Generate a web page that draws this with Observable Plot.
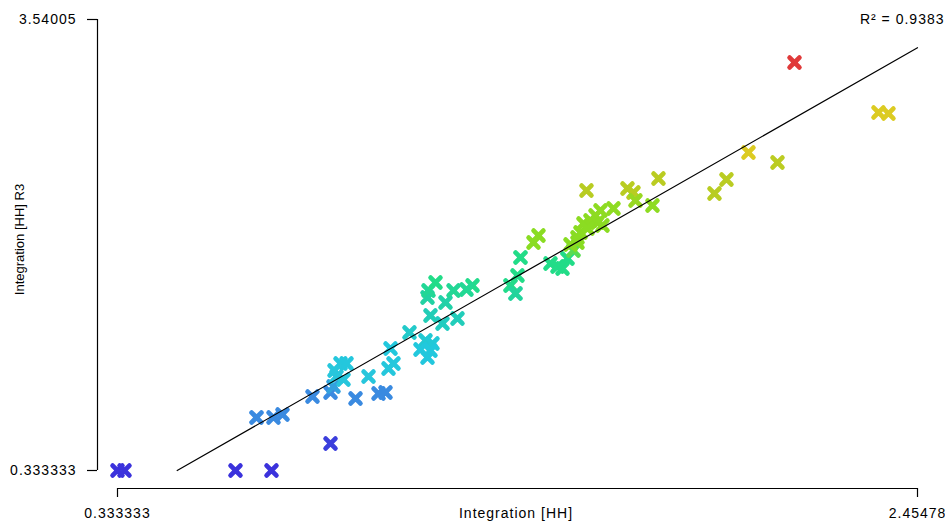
<!DOCTYPE html>
<html>
<head>
<meta charset="utf-8">
<script src="https://cdn.jsdelivr.net/npm/d3@7"></script>
<script src="https://cdn.jsdelivr.net/npm/@observablehq/plot@0.6"></script>
<style>
  html, body { margin: 0; padding: 0; background: #fff; }
  #chart svg text { letter-spacing: 1px; }
  #chart svg text[transform*="rotate"] { letter-spacing: 0; }
</style>
</head>
<body>
<div id="chart"></div>
<script>
// ---- data ----
const xTicks = [0.333333, 2.45478];
const xTickLabels = ["0.333333", "2.45478"];
const yTicks = [0.333333, 3.54005];
const yTickLabels = ["0.333333", "3.54005"];
const xLabel = "Integration [HH]";
const yLabel = "Integration [HH] R3";
const r2Label = "R² = 0.9383";

const xVals = [
  0.3333, 0.3519, 0.6462, 0.7417, 0.7019, 0.7470, 0.7709, 0.8504, 0.8982, 0.9061,
  0.8982, 0.9645, 1.0255, 1.0440, 0.9247, 0.9406, 0.9088, 0.9141, 0.9327, 0.9990,
  1.0573, 1.0652, 1.0520, 1.1076, 1.1501, 1.1686, 1.1368, 1.1633, 1.1554, 1.1633,
  1.1952, 1.2349, 1.2031, 1.2244, 1.1554, 1.1580, 1.1766, 1.2747, 1.2588, 1.3755,
  1.3887, 1.3940, 1.4020, 1.4365, 1.4497, 1.4815, 1.5001, 1.5134, 1.5266, 1.5425,
  1.5346, 1.5531, 1.5531, 1.5611, 1.5690, 1.5876, 1.6009, 1.6141, 1.6062, 1.5797,
  1.6194, 1.6486, 1.5770, 1.6857, 1.7016, 1.7679, 1.7069, 1.7520, 2.1286, 2.3513,
  2.3778, 2.0066, 2.0835, 1.9482, 1.9164
];
const yVals = [
  0.3333, 0.3333, 0.3333, 0.3333, 0.7102, 0.7102, 0.7315, 0.8595, 0.8879, 0.9306,
  0.5253, 0.8453, 0.8808, 0.8879, 1.0941, 1.0941, 1.0443, 1.0017, 0.9804, 1.0017,
  1.2008, 1.0941, 1.0586, 1.3145, 1.2577, 1.2363, 1.1937, 1.1865, 1.1368, 1.4354,
  1.3785, 1.4141, 1.5278, 1.6132, 1.5634, 1.6132, 1.6700, 1.6487, 1.6203, 1.6487,
  1.5918, 1.7198, 1.8478, 1.9544, 2.0042, 1.8051, 1.7838, 1.7696, 1.8407, 1.8976,
  1.9402, 1.9544, 1.9900, 2.0255, 2.0895, 2.1109, 2.1464, 2.1820, 2.0966, 2.0540,
  2.0753, 2.1962, 2.3242, 2.3384, 2.3100, 2.4095, 2.2531, 2.2175, 3.2343, 2.8788,
  2.8717, 2.5944, 2.5233, 2.4024, 2.3028
];

// fitted line endpoints as drawn in the reference
const fitX = [0.4916, 2.45478];
const fitY = [0.333333, 3.3396];

// colour stops (value of y -> colour)
const colorDomain = [0.3333, 0.55, 0.70, 0.90, 0.98, 1.20, 1.40, 1.58, 1.66, 1.86, 1.93, 2.24, 2.30, 2.53, 2.58, 2.90, 3.2343];
const colorRange = ["#3b32dc", "#3b40dc", "#3a8ae0", "#3a8ae0", "#27c6dc", "#22c8dd", "#22ccbc", "#22d3a0",
                    "#22dc88", "#22dc88", "#88dc22", "#8fdb22", "#b8cc22", "#bccc22", "#dccb22", "#dccb22", "#e03a3a"];

// ---- build ----
const points = xVals.map((x, i) => ({x, y: yVals[i]}));
const fit = fitX.map((x, i) => ({x, y: fitY[i]}));
const xMin = xTicks[0], xMax = xTicks[1];
const yMin = yTicks[0], yMax = yTicks[1];

const chart = Plot.plot({
  width: 945,
  height: 521,
  marginLeft: 97,
  marginRight: 28,
  marginTop: 19,
  marginBottom: 33,
  style: {fontFamily: "'Liberation Sans', Arial, Helvetica, sans-serif", fontSize: "14px", color: "#000", background: "#fff"},
  x: {domain: [xMin, xMax], insetLeft: 20},
  y: {domain: [yMin, yMax], insetBottom: 18},
  color: {type: "linear", domain: colorDomain, range: colorRange, interpolate: "rgb"},
  marks: [
    Plot.ruleY([yMin], {x1: xMin, x2: xMax, dy: 18, stroke: "#000", strokeWidth: 1.2}),
    Plot.ruleX([xMin], {y1: yMin, y2: yMax, dx: -20, stroke: "#000", strokeWidth: 1.2}),
    Plot.axisX(xTicks, {tickFormat: d => xTickLabels[xTicks.indexOf(d)], tickSize: 9, tickPadding: 11,
      stroke: "#000", strokeWidth: 1.2, fill: "#000", fontSize: 14, label: null}),
    Plot.axisY(yTicks, {tickFormat: d => yTickLabels[yTicks.indexOf(d)], tickSize: 10, tickPadding: 11,
      stroke: "#000", strokeWidth: 1.2, fill: "#000", fontSize: 14, label: null}),
    Plot.text([xLabel], {frameAnchor: "bottom", dx: 8.5, dy: 25, lineAnchor: "middle", fontSize: 14, fill: "#000"}),
    Plot.text([yLabel], {frameAnchor: "left", rotate: -90, dx: -78, dy: -14.5, textAnchor: "middle", lineAnchor: "middle", fontSize: 13, fill: "#000"}),
    Plot.text([r2Label], {frameAnchor: "top-right", dx: 27, textAnchor: "end", lineAnchor: "middle", fontSize: 14, fill: "#000"}),
    Plot.dot(points, {x: "x", y: "y", symbol: "times", r: 4.5, stroke: "y", strokeWidth: 4.8, strokeLinecap: "round"}),
    Plot.line(fit, {x: "x", y: "y", stroke: "#000", strokeWidth: 1.2})
  ]
});
document.getElementById("chart").appendChild(chart);
</script>
</body>
</html>
